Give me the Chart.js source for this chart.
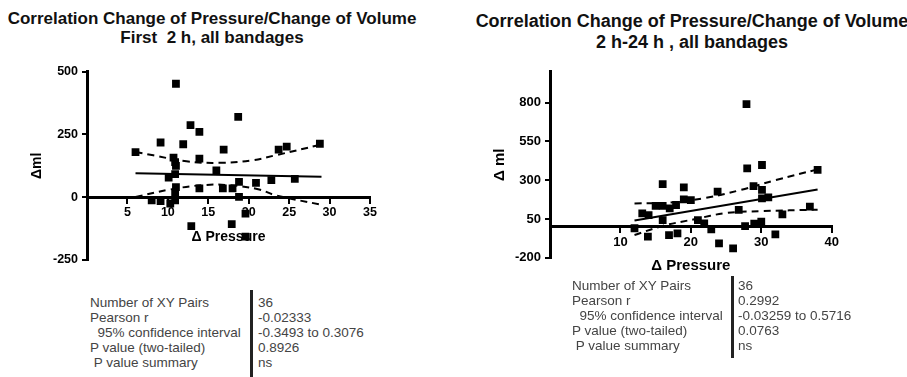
<!DOCTYPE html>
<html>
<head>
<meta charset="utf-8">
<script src="https://cdn.jsdelivr.net/npm/chart.js@4.4.1/dist/chart.umd.min.js"></script>
<style>
  body { margin:0; background:#fff; width:907px; height:377px; overflow:hidden; position:relative; font-family:"Liberation Sans", Arial, sans-serif; }
  canvas { position:absolute; top:0; }
  .title { position:absolute; font-weight:bold; text-align:center; color:#111; white-space:pre; }
  .tbl { position:absolute; font-size:13.5px; line-height:15px; color:#444; white-space:pre; }
  .bar { position:absolute; width:2.5px; background:#222; }
</style>
</head>
<body>
<div class="title" id="t1" style="left:0;width:424px;top:8.5px;font-size:17px;line-height:19.5px"></div>
<div class="title" id="t2" style="left:472px;width:440px;top:11px;font-size:18px;line-height:21px"></div>
<canvas id="c1" width="440" height="280" style="left:0"></canvas>
<canvas id="c2" width="440" height="280" style="left:467px"></canvas>
<div class="tbl" id="l1" style="left:90px;top:294.5px"></div>
<div class="bar" style="left:250px;top:290px;height:87px"></div>
<div class="tbl" id="v1" style="left:258px;top:294.5px"></div>
<div class="tbl" id="l2" style="left:572px;top:278px"></div>
<div class="bar" style="left:731px;top:276px;height:82px"></div>
<div class="tbl" id="v2" style="left:738px;top:278px"></div>
<script>
// first 2 h
const leftPressure = [6, 9.1, 11, 12.8, 13.9, 11.9, 10.7, 10.9, 13.9, 16.9, 18.7, 16, 10.1, 10.9, 13.9, 16.8, 18, 18.8,
  20.9, 22.8, 18.8, 8, 9.1, 10.3, 10.9, 10.9, 11, 12.9, 17.9, 19.6, 23.7, 24.7, 28.8, 25.7, 19.6, 11];
const leftVolume = [180, 218, 452, 287, 260, 211, 158, 140, 154, 190, 320, 107, 78, 92, 35, 35, 35, 61,
  57, 68, 1, -12, -15, -25, -12, 17, 40, -115, -107, -65, 190, 202, 213, 73, -157, 125];
const leftFitX = [6, 29];
const leftFitY = [96, 82];
const leftUpperX = [6, 8.2, 12.3, 16.4, 20.4, 23.3, 29];
const leftUpperY = [180, 167, 143, 137, 147, 167, 210];
const leftLowerX = [6, 10.3, 14.3, 17.6, 21.3, 23.3, 29];
const leftLowerY = [1, 31, 48, 48, 31, 8, -30];
const leftXTicks = [5, 10, 15, 20, 25, 30, 35];
const leftYTicks = [-250, 0, 250, 500];

// 2 h - 24 h
const rightPressure = [16, 19, 23.8, 15, 16, 17.9, 19, 20, 13.1, 14, 16, 12, 13.9, 16.9, 18.1, 21, 21.9, 22.9,
  24, 26, 27.9, 28, 30.1, 38, 28.9, 30.1, 30.1, 31, 26.8, 33, 36.9, 27.7, 30, 32, 17, 29];
const rightVolume = [275, 254, 226, 135, 135, 140, 177, 172, 86, 75, 43, -10, -64, -54, -43, 43, 22, -17,
  -107, -140, 791, 376, 398, 366, 262, 237, 183, 189, 108, 80, 129, 4, 32, -49, 118, 20];
const rightFitX = [12, 38];
const rightFitY = [40, 240];
const rightUpperX = [12, 17, 22, 27, 32, 38];
const rightUpperY = [150, 155, 185, 236, 300, 370];
const rightLowerX = [12, 16, 20.5, 25, 30, 38];
const rightLowerY = [-54, 5, 48, 88, 100, 110];
const rightXTicks = [10, 20, 30, 40];
const rightYTicks = [-200, 50, 300, 550, 800];

const statLabels = ['Number of XY Pairs', 'Pearson r', '  95% confidence interval', 'P value (two-tailed)', ' P value summary'];
const leftStats = ['36', '-0.02333', '-0.3493 to 0.3076', '0.8926', 'ns'];
const rightStats = ['36', '0.2992', '-0.03259 to 0.5716', '0.0763', 'ns'];

document.getElementById('t1').textContent = 'Correlation Change of Pressure/Change of Volume\nFirst  2 h, all bandages';
document.getElementById('t2').textContent = 'Correlation Change of Pressure/Change of Volume\n2 h-24 h , all bandages';
document.getElementById('l1').textContent = statLabels.join('\n');
document.getElementById('v1').textContent = leftStats.join('\n');
document.getElementById('l2').textContent = statLabels.join('\n');
document.getElementById('v2').textContent = rightStats.join('\n');

const pts = (xs, ys) => xs.map((x, i) => ({x: x, y: ys[i]}));

function scatter(canvas, s){
  const tickFont = {family:'"Liberation Sans", Arial', size:s.tick, weight:'bold'};
  const titleFont = {family:'"Liberation Sans", Arial', size:s.axisTitle, weight:'bold'};
  return new Chart(canvas.getContext('2d'), {
    type:'scatter',
    data:{
      datasets:[
        {data:pts(s.px, s.py), pointStyle:'rect', pointRadius:5.5, backgroundColor:'#000', borderWidth:0},
        {data:pts(s.fx, s.fy), showLine:true, borderColor:'#000', borderWidth:2, pointRadius:0},
        {data:pts(s.ux, s.uy), showLine:true, borderColor:'#000', borderWidth:2, borderDash:[7,5], tension:0.4, pointRadius:0},
        {data:pts(s.lx, s.ly), showLine:true, borderColor:'#000', borderWidth:2, borderDash:[7,5], tension:0.4, pointRadius:0}
      ]
    },
    options:{
      responsive:false,
      animation:false,
      layout:{padding:s.pad},
      plugins:{legend:{display:false}, tooltip:{enabled:false}},
      scales:{
        x:{
          type:'linear', min:0, max:s.xmax, position:{y:0},
          afterBuildTicks:sc => { sc.ticks = s.xt.map(v => ({value:v})); },
          ticks:{font:tickFont, color:'#000', padding:3},
          grid:{drawOnChartArea:false, tickLength:5, color:'#000', lineWidth:2},
          border:{color:'#000', width:3},
          title:{display:true, text:'Δ Pressure', font:titleFont, color:'#000', padding:{top:s.xtPad, bottom:0}}
        },
        y:{
          type:'linear', min:s.ymin, max:s.ymax,
          afterBuildTicks:sc => { sc.ticks = s.yt.map(v => ({value:v})); },
          afterFit:sc => { sc.width = s.yw; },
          ticks:{font:tickFont, color:'#000', padding:4},
          grid:{drawOnChartArea:false, tickLength:5, color:'#000', lineWidth:2},
          border:{color:'#000', width:3},
          title:{display:true, text:s.ytitle, font:titleFont, color:'#000', padding:{top:0, bottom:0}}
        }
      }
    }
  });
}

scatter(document.getElementById('c1'), {
  px:leftPressure, py:leftVolume, fx:leftFitX, fy:leftFitY, ux:leftUpperX, uy:leftUpperY, lx:leftLowerX, ly:leftLowerY,
  xt:leftXTicks, yt:leftYTicks, xmax:35, ymin:-250, ymax:500, ytitle:'Δml',
  tick:12.5, axisTitle:14, xtPad:5.4, yw:58.4,
  pad:{left:28.6, right:70, top:71.7, bottom:20}
});
scatter(document.getElementById('c2'), {
  px:rightPressure, py:rightVolume, fx:rightFitX, fy:rightFitY, ux:rightUpperX, uy:rightUpperY, lx:rightLowerX, ly:rightLowerY,
  xt:rightXTicks, yt:rightYTicks, xmax:40, ymin:-200, ymax:1000, ytitle:'Δ ml',
  tick:13, axisTitle:15, xtPad:3.7, yw:59,
  pad:{left:24, right:75.3, top:71.7, bottom:22.3}
});
</script>
</body>
</html>
